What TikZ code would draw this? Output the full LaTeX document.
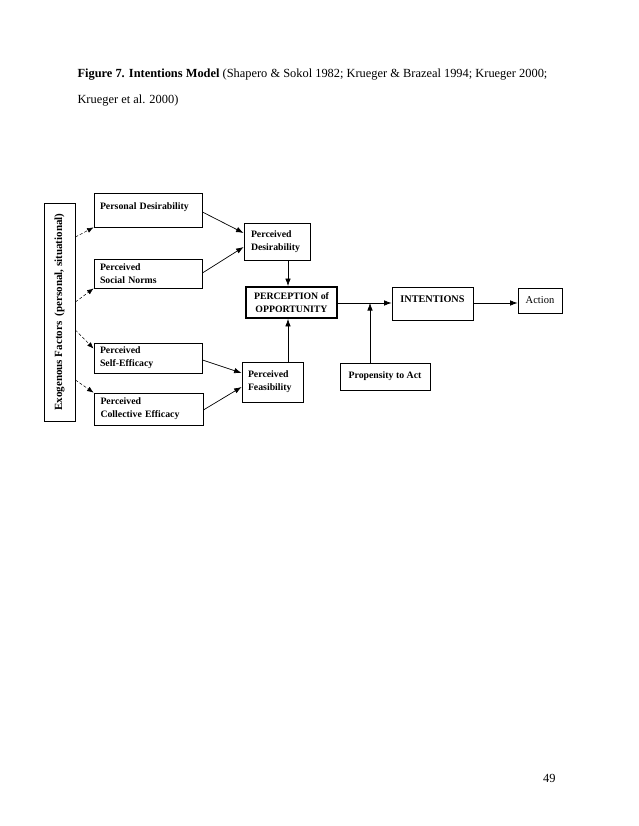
\documentclass[tikz,border=0pt]{standalone}
\usepackage{fontspec}
\setmainfont{Liberation Serif}
\usetikzlibrary{arrows.meta}
\begin{document}
\begin{tikzpicture}[x=1pt,y=-1pt,
  box/.style={draw,line width=0.8pt,inner sep=0pt,font=\bfseries\fontsize{9.8}{13}\selectfont},
  lbox/.style={box,minimum width=108pt,minimum height=30pt,align=left,text width=96pt},
  arr/.style={line width=0.7pt,-{Latex[length=7.5pt,width=5.5pt]}},
  darr/.style={line width=0.5pt,densely dashed,-{Latex[length=6.5pt,width=5pt]}}]
\useasboundingbox (0,0) rectangle (638,826);
\node[anchor=base west,font=\fontsize{12.4}{14}\selectfont] (title) at (74,78) {\textbf{Figure 7. Intentions Model} (Shapero \& Sokol 1982; Krueger \& Brazeal 1994; Krueger 2000;};
\node[anchor=base west,font=\fontsize{12.4}{14}\selectfont] (title2) at (74,104) {Krueger et al. 2000)};
\node[anchor=base east,font=\fontsize{12.4}{14}\selectfont] (page) at (559,782) {49};

\node[box,rotate=90,minimum width=218pt,minimum height=31pt,font=\bfseries\fontsize{11}{12}\selectfont] (exo) at (59.5,312) {Exogenous Factors\ \ (personal, situational)};

\node[lbox,minimum height=34pt,text depth=8pt] (pd) at (148,210) {Personal Desirability};
\node[lbox,minimum height=29pt] (sn) at (148,273.5) {Perceived\\Social Norms};
\node[lbox,minimum height=30pt] (se) at (148,358) {Perceived\\Self-Efficacy};
\node[lbox,minimum height=32pt,minimum width=109pt] (ce) at (148.5,409) {Perceived\\Collective Efficacy};

\node[box,minimum width=66pt,minimum height=37pt,align=left,text width=52pt] (pdes) at (277,241.5) {Perceived\\Desirability};
\node[box,line width=1.8pt,minimum width=91pt,minimum height=31pt,align=center] (opp) at (291.5,302.5) {PERCEPTION of\\OPPORTUNITY};
\node[box,minimum width=61pt,minimum height=40pt,align=left,text width=49pt] (pfeas) at (272.5,382) {Perceived\\Feasibility};
\node[box,minimum width=90pt,minimum height=27pt] (prop) at (385,376.5) {Propensity to Act};
\node[box,minimum width=81pt,minimum height=33pt,text depth=9pt,font=\bfseries\fontsize{10.2}{12}\selectfont] (int) at (432.5,303.5) {INTENTIONS};
\node[box,minimum width=44pt,minimum height=25pt,font=\fontsize{10.5}{12}\selectfont] (act) at (540,300.5) {Action};

\coordinate (j) at (370,303);

\draw[darr] (exo.south |- 0,237) -- (pd.south west);
\draw[darr] (exo.south |- 0,302) -- (sn.south west);
\draw[darr] (exo.south |- 0,330) -- ([yshift=-6pt]se.north west);
\draw[darr] (exo.south |- 0,380) -- (ce.north west);

\draw[arr] (pd.east |- 0,212) -- (pdes.west |- 0,233);
\draw[arr] (sn.east |- 0,273) -- (pdes.west |- 0,247);
\draw[arr] (se.east |- 0,360) -- (pfeas.west |- 0,373);
\draw[arr] (ce.east |- 0,410) -- (pfeas.west |- 0,387);

\draw[arr] (pdes.south -| 288,0) -- (opp.north -| 288,0);
\draw[arr] (pfeas.north -| 288,0) -- (opp.south -| 288,0);
\draw[arr] (opp.east |- j) -- (int.west |- j);
\draw[arr] (prop.north -| j) -- (j);
\draw[arr] (int.east |- j) -- (act.west |- j);
\end{tikzpicture}
\end{document}
